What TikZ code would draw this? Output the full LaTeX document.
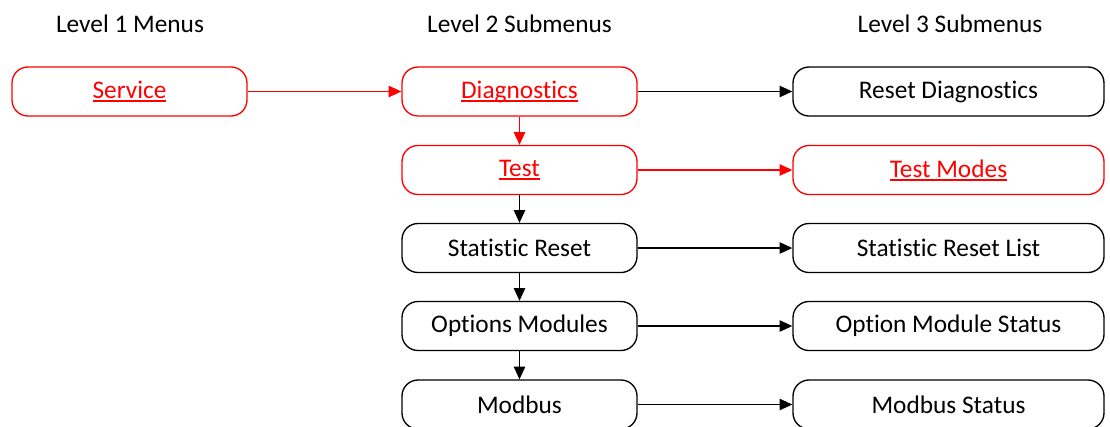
\documentclass[tikz,border=0pt]{standalone}
\usepackage{fontspec}
\setmainfont{Carlito}[Ligatures={NoCommon}]
\usetikzlibrary{arrows.meta}
\definecolor{menured}{RGB}{255,0,0}
\tikzset{
  menubox/.style={draw, line width=1pt, rounded corners=12pt, minimum height=36.75pt, inner sep=0pt, font=\fontsize{19}{22}\selectfont, fill=white},
  l1box/.style={menubox, minimum width=176.25pt},
  l2box/.style={menubox, minimum width=176.25pt},
  l3box/.style={menubox, minimum width=233.25pt},
  redbox/.style={draw=menured, text=menured},
  head/.style={font=\fontsize{19}{22}\selectfont},
  link/.style={line width=1pt, -{Triangle[length=9.5pt,width=8.5pt]}},
  redlink/.style={link, draw=menured, fill=menured},
}
\newcommand{\ul}[1]{\leavevmode\setbox0\hbox{#1}\rlap{\rule[-2.6pt]{\wd0}{1.1pt}}\box0}
\begin{document}
\begin{tikzpicture}[x=0.75pt, y=-0.75pt]
\useasboundingbox (0,0) rectangle (1110,426);
\node[head] (h1) at (130,24) {Level 1 Menus};
\node[head] (h2) at (519.5,24) {Level 2 Submenus};
\node[head] (h3) at (950,24) {Level 3 Submenus};

\node[l1box, redbox] (service) at (129.5,91.5) {\ul{Service}};

\node[l2box, redbox] (diag) at (519.5,91.5) {\ul{Diagnostics}};
\node[l2box, redbox] (test) at (519.5,170) {\ul{Test}};
\node[l2box] (stat) at (519.5,248) {Statistic Reset};
\node[l2box] (opt) at (519.5,326) {Options Modules};
\node[l2box] (mod) at (519.5,404.5) {Modbus};

\node[l3box] (resetdiag) at (948.5,91.5) {Reset Diagnostics};
\node[l3box, redbox] (testmodes) at (948.5,170) {\ul{Test Modes}};
\node[l3box] (statlist) at (948.5,248) {Statistic Reset List};
\node[l3box] (optstat) at (948.5,326) {Option Module Status};
\node[l3box] (modstat) at (948.5,404.5) {Modbus Status};

\draw[redlink] (service) -- (diag);
\draw[redlink] (diag) -- (test);
\draw[redlink] (test) -- (testmodes);
\draw[link] (diag) -- (resetdiag);
\draw[link] (test) -- (stat);
\draw[link] (stat) -- (opt);
\draw[link] (opt) -- (mod);
\draw[link] (stat) -- (statlist);
\draw[link] (opt) -- (optstat);
\draw[link] (mod) -- (modstat);
\end{tikzpicture}
\end{document}
